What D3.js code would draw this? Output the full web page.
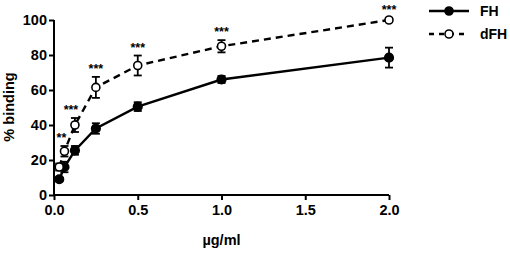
<!DOCTYPE html>
<html>
<head>
<meta charset="utf-8">
<script src="https://cdn.jsdelivr.net/npm/d3@7"></script>
<style>
body { margin: 0; background: #fff; }
svg { display: block; font-family: "Liberation Sans", Arial, sans-serif; }
.axis text { font-size: 14.5px; font-weight: 700; fill: #000; }
.axis path, .axis line { stroke: #000; stroke-width: 2px; }
</style>
</head>
<body>
<div id="chart"></div>
<script>
// concentrations (µg/ml)
const doses = [0.03125, 0.0625, 0.125, 0.25, 0.5, 1, 2];

const fhMean = [9, 16, 25.5, 38, 50.5, 66, 78.5];
const fhErr = [1, 3, 2.5, 3, 2.5, 2, 5.7];

const dfhMean = [16, 25, 40, 61.5, 74, 85, 100];
const dfhErr = [2, 3, 4, 6, 5.7, 3.5, 1];

const sigLabels = ["", "**", "***", "***", "***", "***", "***"];

const xTicks = [0, 0.5, 1, 1.5, 2];
const yTicks = [0, 20, 40, 60, 80, 100];

const W = 510, H = 253;
const margin = { top: 20, right: 121, bottom: 58, left: 54 };
const width = W - margin.left - margin.right;
const height = H - margin.top - margin.bottom;

const svg = d3.select("#chart").append("svg")
  .attr("width", W).attr("height", H);

const g = svg.append("g")
  .attr("transform", `translate(${margin.left},${margin.top})`);

const x = d3.scaleLinear().domain([0, 2]).range([0, width]);
const y = d3.scaleLinear().domain([0, 100]).range([height, 0]);

// axes
g.append("g")
  .attr("class", "axis")
  .attr("transform", `translate(0,${height})`)
  .call(d3.axisBottom(x).tickValues(xTicks).tickFormat(d3.format(".1f")).tickSize(5).tickPadding(5))
  .call(a => a.select(".domain").attr("d", `M0,0H${width}`));

g.append("g")
  .attr("class", "axis")
  .call(d3.axisLeft(y).tickValues(yTicks).tickSize(5).tickPadding(2))
  .call(a => a.select(".domain").attr("d", `M0,0V${height}`));

// axis labels
g.append("text")
  .attr("x", x(1))
  .attr("y", height + 50)
  .attr("text-anchor", "middle")
  .attr("font-size", 14.5).attr("font-weight", 700)
  .text("µg/ml");

g.append("text")
  .attr("transform", "rotate(-90)")
  .attr("x", -(107 - margin.top))
  .attr("y", -40)
  .attr("text-anchor", "middle")
  .attr("font-size", 14.5).attr("font-weight", 700)
  .text("% binding");

const line = d3.line().x(d => x(d[0])).y(d => y(d[1]));

function drawSeries(means, errs, dashed, open) {
  const pts = doses.map((d, i) => [d, means[i], errs[i]]);
  g.append("path")
    .datum(pts)
    .attr("fill", "none")
    .attr("stroke", "#000")
    .attr("stroke-width", 2.4)
    .attr("stroke-dasharray", dashed ? "7,5" : null)
    .attr("d", line);

  const eb = g.append("g").selectAll("g").data(pts).enter().append("g");
  eb.append("line")
    .attr("x1", d => x(d[0])).attr("x2", d => x(d[0]))
    .attr("y1", d => y(d[1] - d[2])).attr("y2", d => y(d[1] + d[2]))
    .attr("stroke", "#000").attr("stroke-width", 1.8);
  [-1, 1].forEach(s => {
    eb.append("line")
      .attr("x1", d => x(d[0]) - 4).attr("x2", d => x(d[0]) + 4)
      .attr("y1", d => y(d[1] + s * d[2])).attr("y2", d => y(d[1] + s * d[2]))
      .attr("stroke", "#000").attr("stroke-width", 1.8);
  });

  g.append("g").selectAll("circle").data(pts).enter().append("circle")
    .attr("cx", d => x(d[0])).attr("cy", d => y(d[1]))
    .attr("r", open ? 4 : 4.3)
    .attr("fill", open ? "#fff" : "#000")
    .attr("stroke", "#000").attr("stroke-width", 1.6);
}

drawSeries(fhMean, fhErr, false, false);
drawSeries(dfhMean, dfhErr, true, true);

// significance stars (the two crowded ones sit a bit to the left)
const starShift = [0, -3, -4, 0, 0, 0, 0];
g.append("g").selectAll("text").data(doses).enter().append("text")
  .attr("x", (d, i) => x(d) + starShift[i])
  .attr("y", (d, i) => y(dfhMean[i] + dfhErr[i]) - 4)
  .attr("text-anchor", "middle")
  .attr("font-size", 12.5).attr("font-weight", 700)
  .text((d, i) => sigLabels[i]);

// legend
const legend = svg.append("g").attr("transform", "translate(429,0)");
const items = [
  { label: "FH", dashed: false, open: false, y: 11 },
  { label: "dFH", dashed: true, open: true, y: 34 }
];
items.forEach(it => {
  legend.append("line")
    .attr("x1", 0).attr("x2", 40).attr("y1", it.y).attr("y2", it.y)
    .attr("stroke", "#000").attr("stroke-width", 2.4)
    .attr("stroke-dasharray", it.dashed ? "5,5" : null);
  legend.append("circle")
    .attr("cx", 20).attr("cy", it.y).attr("r", 4)
    .attr("fill", it.open ? "#fff" : "#000")
    .attr("stroke", "#000").attr("stroke-width", 1.6);
  legend.append("text")
    .attr("x", 51).attr("y", it.y + 5)
    .attr("font-size", 14).attr("font-weight", 700)
    .text(it.label);
});
</script>
</body>
</html>
